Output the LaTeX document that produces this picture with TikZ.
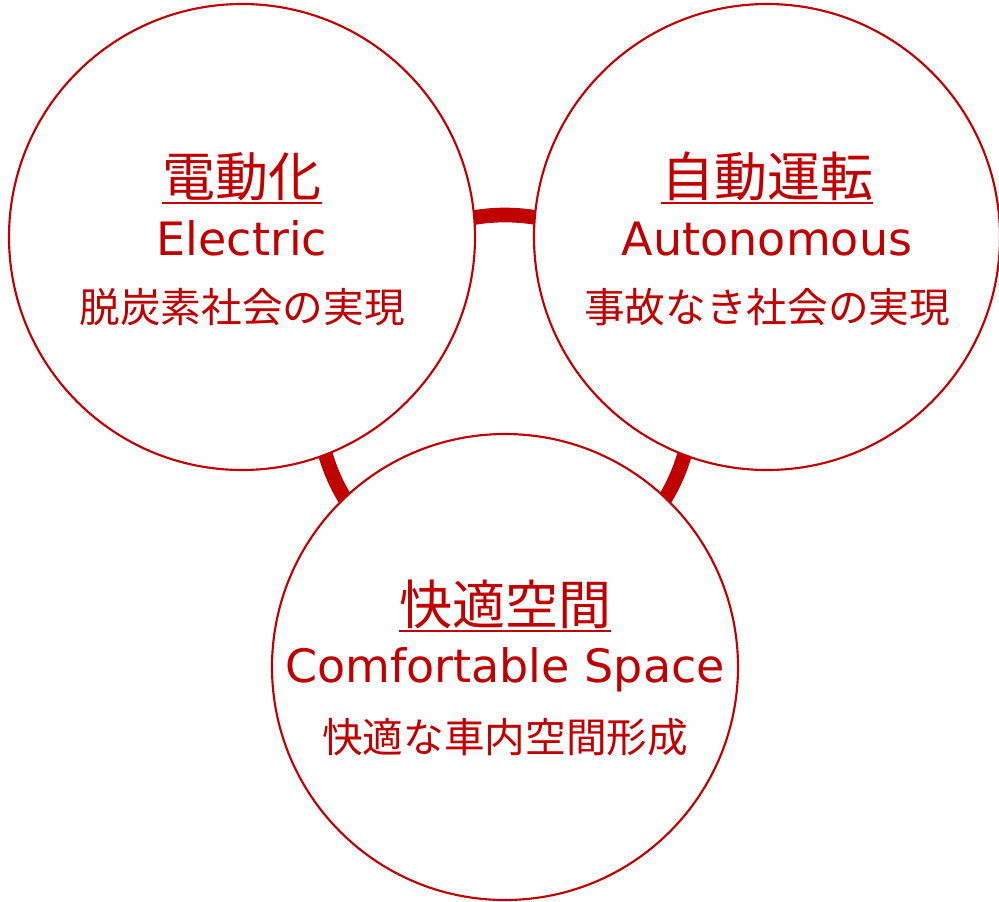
\documentclass[tikz,border=0pt]{standalone}
\usepackage{fontspec}
\usetikzlibrary{calc}
\newfontfamily\jp{Noto Sans CJK JP}
\newfontfamily\lat{DejaVu Sans}
\definecolor{myred}{HTML}{C00000}
\begin{document}
\begin{tikzpicture}[x=0.75pt,y=-0.75pt,
 bubble/.style={circle,draw=myred,line width=1.6pt,fill=white,minimum size=349.5pt,inner sep=0pt},
 ttl/.style={text=myred,font=\jp\fontsize{39.75}{40}\selectfont,inner sep=0pt,anchor=base},
 eng/.style={text=myred,font=\lat\fontsize{34.5}{35}\selectfont,inner sep=0pt,anchor=base},
 subt/.style={text=myred,font=\jp\fontsize{30.5}{31}\selectfont,inner sep=0pt,anchor=base},
 ring/.style={draw=myred,line width=11pt},
 uline/.style={draw=myred,line width=1.8pt}]
\useasboundingbox (0,0) rectangle (999,901);
\coordinate (rc) at (505,402);
\draw[ring] (rc) circle (140.25pt);
\node[bubble] (L) at (242,237) {};
\node[bubble] (R) at (767,237) {};
\node[bubble] (B) at (505,667) {};
% left
\node[ttl] (Lt) at ($(L.center)+(0,-41)$) {電動化};
\draw[uline] ($(Lt.base west)+(0,7)$) -- ($(Lt.base east)+(0,7)$);
\node[eng] (Le) at ($(L.center)+(0,18)$) {Electric};
\node[subt] (Ls) at ($(L.center)+(0,85)$) {脱炭素社会の実現};
% right
\node[ttl] (Rt) at ($(R.center)+(0,-41)$) {自動運転};
\draw[uline] ($(Rt.base west)+(0,7)$) -- ($(Rt.base east)+(0,7)$);
\node[eng] (Re) at ($(R.center)+(0,18)$) {Autonomous};
\node[subt] (Rs) at ($(R.center)+(0,85)$) {事故なき社会の実現};
% bottom
\node[ttl] (Bt) at ($(B.center)+(0,-43)$) {快適空間};
\draw[uline] ($(Bt.base west)+(0,7)$) -- ($(Bt.base east)+(0,7)$);
\node[eng] (Be) at ($(B.center)+(0,15)$) {Comfortable Space};
\node[subt] (Bs) at ($(B.center)+(0,85)$) {快適な車内空間形成};
\end{tikzpicture}
\end{document}
